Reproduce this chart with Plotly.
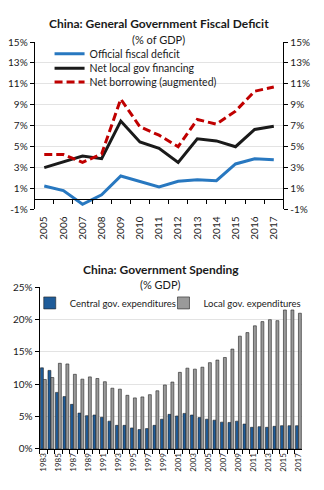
import plotly.graph_objects as go

# ---------------- data ----------------
years_top = [str(y) for y in range(2005, 2018)]
official_deficit = [1.25, 0.8, -0.5, 0.4, 2.2, 1.65, 1.15, 1.7, 1.85, 1.75, 3.35, 3.85, 3.75]
net_local_financing = [3.0, 3.55, 4.1, 3.85, 7.45, 5.45, 4.85, 3.5, 5.75, 5.55, 5.0, 6.65, 6.95]
net_borrowing = [4.25, 4.25, 3.5, 4.3, 9.55, 6.9, 6.1, 5.0, 7.6, 7.15, 8.4, 10.3, 10.7]

years_bot = [str(y) for y in range(1983, 2018)]
central_exp = [12.55, 12.15, 8.75, 8.1, 6.9, 5.55, 5.15, 5.25, 4.9, 4.3, 3.65, 3.65, 3.25,
               3.0, 3.15, 3.65, 4.6, 5.35, 5.1, 5.5, 5.25, 4.85, 4.6, 4.45, 4.15, 4.1,
               4.3, 3.85, 3.35, 3.45, 3.35, 3.5, 3.6, 3.6, 3.6]
local_exp = [10.75, 11.05, 13.25, 13.15, 11.55, 10.8, 11.15, 10.9, 10.4, 9.4, 9.25, 8.3, 7.9,
             8.05, 8.4, 9.0, 9.9, 10.35, 11.85, 12.5, 12.35, 12.65, 13.35, 13.75, 14.15,
             15.45, 17.45, 18.0, 19.05, 19.7, 20.0, 19.85, 21.5, 21.5, 21.0]

top_ticks = [-1, 1, 3, 5, 7, 9, 11, 13, 15]
top_ticktext = [f"{v}%" for v in top_ticks]
bot_ticks = [0, 5, 10, 15, 20, 25]
bot_ticktext = [f"{v}%" for v in bot_ticks]
bot_xlabels = [y if i % 2 == 0 else "" for i, y in enumerate(years_bot)]

# ---------------- layout geometry ----------------
W, H = 324, 490
def px_x(x): return x / W
def px_y(y): return 1 - y / H

top_dom_x = [px_x(33), px_x(284)]
top_dom_y = [px_y(208), px_y(36)]
bot_dom_x = [px_x(38), px_x(303)]
bot_dom_y = [px_y(454), px_y(288)]
top_range = [-1, 15]
zero_pos = top_dom_y[0] + (0 - top_range[0]) / (top_range[1] - top_range[0]) * (top_dom_y[1] - top_dom_y[0])

FONT = "Lato"
TXT = "#1a1a1a"
GRID = "#e3e3e3"

fig = go.Figure()

# top chart lines (each in its own legend box so rows can sit close together)
fig.add_trace(go.Scatter(x=years_top, y=official_deficit, mode="lines", name="Official fiscal deficit",
                         line=dict(color="#2878c0", width=3), xaxis="x", yaxis="y", legend="legend"))
fig.add_trace(go.Scatter(x=years_top, y=net_local_financing, mode="lines", name="Net local gov financing",
                         line=dict(color="#1a1a1a", width=3), xaxis="x", yaxis="y", legend="legend3"))
fig.add_trace(go.Scatter(x=years_top, y=net_borrowing, mode="lines", name="Net borrowing (augmented)",
                         line=dict(color="#c00000", width=3, dash="8px,4px"), xaxis="x", yaxis="y",
                         legend="legend4"))
# helper traces for right axis and zero-line axis
fig.add_trace(go.Scatter(x=years_top, y=[None] * len(years_top), mode="lines", showlegend=False,
                         hoverinfo="skip", xaxis="x", yaxis="y2"))
fig.add_trace(go.Scatter(x=years_top, y=[None] * len(years_top), mode="lines", showlegend=False,
                         hoverinfo="skip", xaxis="x2", yaxis="y"))

# bottom chart bars
fig.add_trace(go.Bar(x=years_bot, y=central_exp, name="Central gov. expenditures",
                     marker=dict(color="#1f5c99", line=dict(color="#222222", width=0.6)),
                     xaxis="x3", yaxis="y3", legend="legend2"))
fig.add_trace(go.Bar(x=years_bot, y=local_exp, name="Local gov. expenditures",
                     marker=dict(color="#9a9a9a", line=dict(color="#222222", width=0.6)),
                     xaxis="x3", yaxis="y3", legend="legend5"))

tickfont = dict(family=FONT, size=10, color=TXT)
legfont = dict(family=FONT, size=10.5, color=TXT)
barlegfont = dict(family=FONT, size=9.5, color=TXT)

def line_legend(ycenter):
    return dict(x=px_x(48), y=px_y(ycenter), xanchor="left", yanchor="middle",
                bgcolor="rgba(0,0,0,0)", font=legfont, itemwidth=30)

def bar_legend(xleft):
    return dict(x=px_x(xleft), y=px_y(304), xanchor="left", yanchor="middle",
                bgcolor="rgba(0,0,0,0)", font=barlegfont, itemwidth=30)

fig.update_layout(
    width=W, height=H,
    margin=dict(l=0, r=0, t=0, b=0),
    paper_bgcolor="white", plot_bgcolor="white",
    font=dict(family=FONT, color=TXT),
    barmode="group", bargap=0.22, bargroupgap=0.0,
    xaxis=dict(domain=top_dom_x, anchor="y", type="category", range=[-0.5, 12.5],
               tickangle=-90, tickfont=tickfont, ticks="", showline=False, showgrid=False,
               ticklabelstandoff=4),
    xaxis2=dict(overlaying="x", matches="x", anchor="free", position=zero_pos, type="category",
                showticklabels=False, ticks="outside", tickson="boundaries", ticklen=4,
                tickcolor="black", showline=True, linecolor="black", linewidth=1, showgrid=False),
    yaxis=dict(domain=top_dom_y, anchor="x", range=top_range, tickvals=top_ticks, ticktext=top_ticktext,
               tickfont=tickfont, ticks="outside", ticklen=4, tickcolor="black",
               showline=True, linecolor="black", linewidth=1, showgrid=True, gridcolor=GRID,
               zeroline=False),
    yaxis2=dict(overlaying="y", matches="y", side="right", anchor="x", range=top_range,
                tickvals=top_ticks, ticktext=top_ticktext, tickfont=tickfont,
                ticks="outside", ticklen=4, tickcolor="black", showline=True, linecolor="black",
                linewidth=1, showgrid=False, zeroline=False),
    xaxis3=dict(domain=bot_dom_x, anchor="y3", type="category", range=[-0.5, 34.5],
                tickvals=years_bot, ticktext=bot_xlabels, tickangle=-90,
                tickfont=dict(family=FONT, size=8, color=TXT),
                ticks="outside", tickson="boundaries", ticklen=4, tickcolor="black",
                showline=True, linecolor="black", linewidth=1, showgrid=False),
    yaxis3=dict(domain=bot_dom_y, anchor="x3", range=[0, 25], tickvals=bot_ticks, ticktext=bot_ticktext,
                tickfont=tickfont, ticks="outside", ticklen=4, tickcolor="black",
                showline=True, linecolor="black", linewidth=1, showgrid=True, gridcolor=GRID,
                zeroline=False),
    legend=line_legend(48),
    legend3=line_legend(63),
    legend4=line_legend(77),
    legend2=bar_legend(28),
    legend5=bar_legend(163),
)

def title(text, y, size, x=0.488):
    fig.add_annotation(text=text, x=x, y=px_y(y), xref="paper", yref="paper", showarrow=False,
                       xanchor="center", yanchor="middle", font=dict(family=FONT, size=size, color=TXT))

title("<b>China: General Government Fiscal Deficit</b>", 17, 12)
title("(% of GDP)", 33, 11)
title("<b>China: Government Spending</b>", 270, 12, x=0.494)
title("(% GDP)", 285, 11, x=0.494)

fig.write_html("out.html")
